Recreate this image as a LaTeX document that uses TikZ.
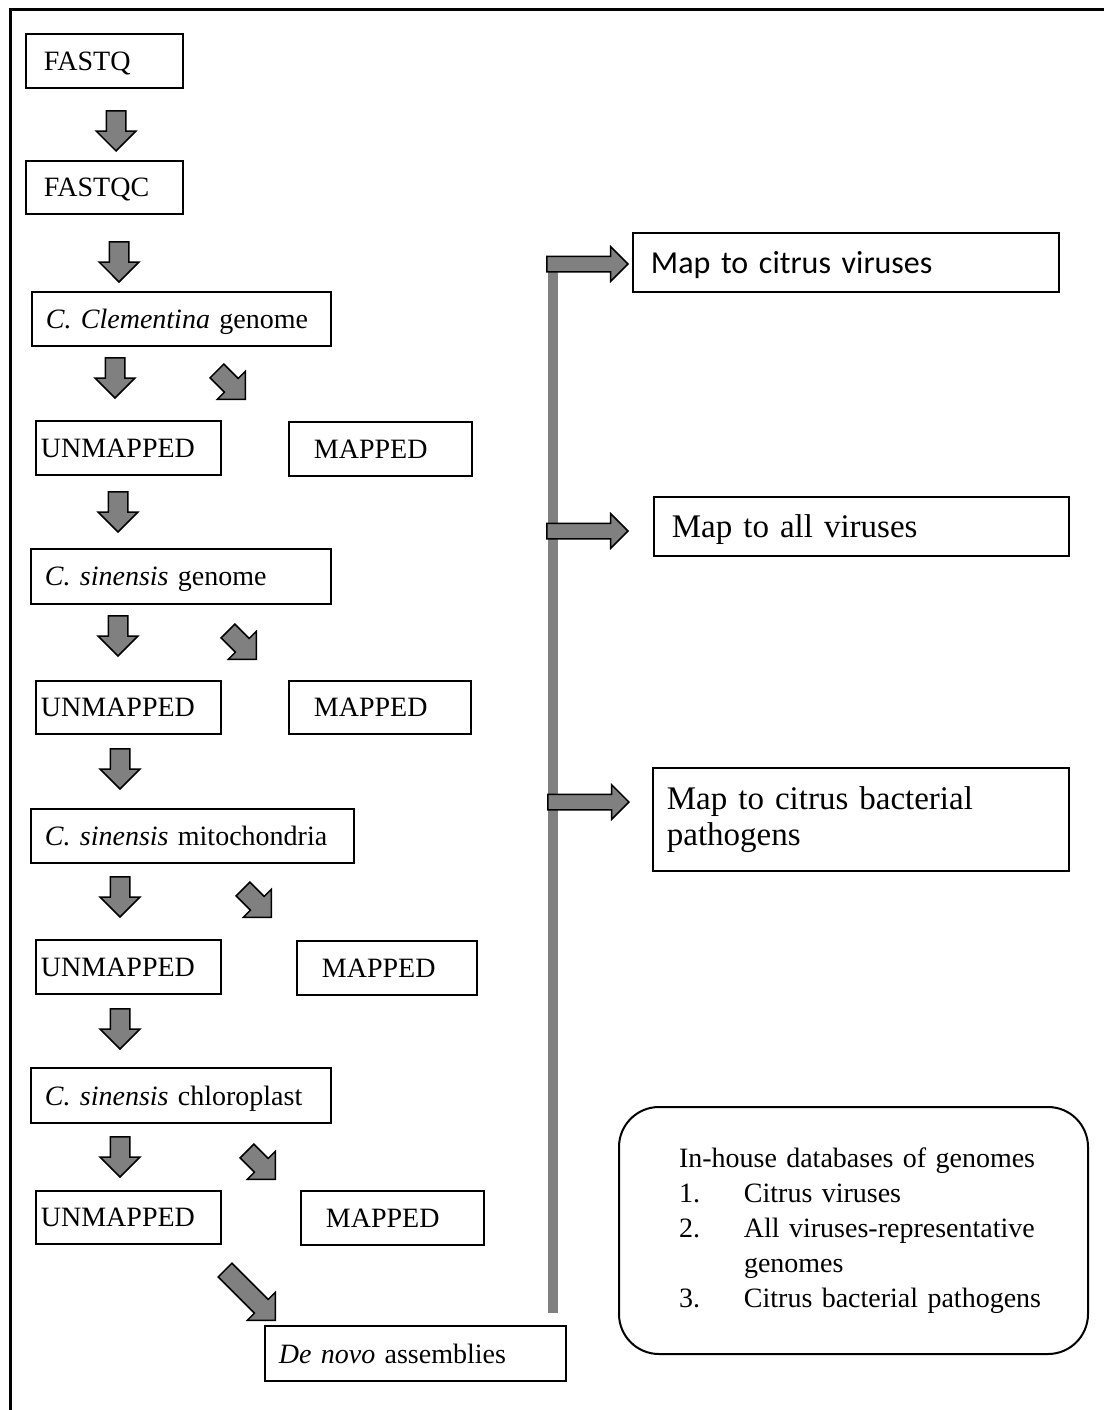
\documentclass[tikz,border=0pt]{standalone}
\usepackage{fontspec}
\setmainfont{Liberation Serif}
\newfontfamily\calibri{Carlito}
\usepackage{xcolor}
\usetikzlibrary{shapes.arrows}
\definecolor{arrowgray}{RGB}{128,128,128}

\begin{document}
\begin{tikzpicture}[
    x=1pt,y=-1pt,
    box/.style={rectangle,draw,line width=1.8pt,anchor=north west,align=left,inner ysep=0pt,text depth=0pt,font=\fontsize{28}{34}\selectfont},
    mapbox/.style={box,font=\fontsize{33}{36}\selectfont},
    dbbox/.style={box,text depth=,rounded corners=40pt,line width=2pt,font=\fontsize{28}{35}\selectfont},
    blockarrow/.style={single arrow,draw,line width=1.5pt,fill=arrowgray,inner sep=9pt,single arrow head extend=10pt,minimum height=40pt,anchor=tip},
    downarrow/.style={blockarrow,rotate=-90},
    diagarrow/.style={blockarrow,rotate=-45},
    rightarrow/.style={blockarrow,inner sep=7pt,single arrow head extend=9.5pt,minimum height=81pt},
    bar/.style={line width=10pt,draw=arrowgray},
    frame/.style={line width=2.5pt}
    ]

    \useasboundingbox (0,0) rectangle (1104,1410);
    \draw[frame] (10.5,1410) -- (10.5,9.5) -- (1104,9.5);

    % main pipeline
    \node[box,minimum width=157pt,minimum height=54pt,text width=121pt,inner xsep=18pt] (fastq) at (25,33) {FASTQ};
    \node[box,minimum width=157pt,minimum height=53pt,text width=121pt,inner xsep=18pt] (fastqc) at (25,160) {FASTQC};
    \node[box,minimum width=299pt,minimum height=54pt,text width=271pt,inner xsep=14pt] (clem) at (31,291) {\textit{C. Clementina} genome};
    \node[box,minimum width=185pt,minimum height=54pt,text width=175pt,inner xsep=5pt] (unmapA) at (35,420) {UNMAPPED};
    \node[box,minimum width=183pt,minimum height=54pt,text width=133pt,inner xsep=25pt] (mappedA) at (288,421) {MAPPED};
    \node[box,minimum width=300pt,minimum height=55pt,text width=272pt,inner xsep=14pt] (sinG) at (30,548) {\textit{C. sinensis} genome};
    \node[box,minimum width=185pt,minimum height=53pt,text width=175pt,inner xsep=5pt] (unmapB) at (35,680) {UNMAPPED};
    \node[box,minimum width=182pt,minimum height=53pt,text width=132pt,inner xsep=25pt] (mappedB) at (288,680) {MAPPED};
    \node[box,minimum width=323pt,minimum height=54pt,text width=295pt,inner xsep=14pt] (mito) at (30,808) {\textit{C. sinensis} mitochondria};
    \node[box,minimum width=185pt,minimum height=54pt,text width=175pt,inner xsep=5pt] (unmapC) at (35,939) {UNMAPPED};
    \node[box,minimum width=180pt,minimum height=54pt,text width=130pt,inner xsep=25pt] (mappedC) at (296,940) {MAPPED};
    \node[box,minimum width=300pt,minimum height=55pt,text width=272pt,inner xsep=14pt] (chloro) at (30,1067) {\textit{C. sinensis} chloroplast};
    \node[box,minimum width=185pt,minimum height=53pt,text width=175pt,inner xsep=5pt] (unmapD) at (35,1190) {UNMAPPED};
    \node[box,minimum width=183pt,minimum height=54pt,text width=133pt,inner xsep=25pt] (mappedD) at (300,1190) {MAPPED};
    \node[box,minimum width=301pt,minimum height=55pt,text width=273pt,inner xsep=14pt] (denovo) at (264,1325) {\textit{De novo} assemblies};

    % block arrows
    \node[downarrow] (fq2qc) at (116,152) {};
    \node[downarrow] (qc2clem) at (119,283) {};
    \node[downarrow] (clem2un) at (115,399) {};
    \node[diagarrow] (clem2map) at (246,400) {};
    \node[downarrow] (un2sin) at (118,533) {};
    \node[downarrow] (sin2un) at (118,657) {};
    \node[diagarrow] (sin2map) at (257,660) {};
    \node[downarrow] (un2mito) at (120,790) {};
    \node[downarrow] (mito2un) at (120,918) {};
    \node[diagarrow] (mito2map) at (272,918) {};
    \node[downarrow] (un2chl) at (120,1050) {};
    \node[downarrow] (chl2un) at (120,1178) {};
    \node[diagarrow] (chl2map) at (276,1180) {};
    \node[diagarrow,minimum height=71pt] (un2denovo) at (276,1321) {};

    % mapping branch
    \coordinate (bartop) at (553,262);
    \coordinate (barbot) at (553,1313);
    \draw[bar] (bartop) -- (barbot);

    \node[mapbox,minimum width=426pt,minimum height=59pt,text width=390pt,inner xsep=18pt,font=\calibri\fontsize{32}{36}\selectfont] (citvir) at (632,232) {Map to citrus viruses};
    \node[mapbox,minimum width=415pt,minimum height=59pt,text width=379pt,inner xsep=18pt] (allvir) at (653,496) {Map to all viruses};
    \node[mapbox,text depth=,minimum width=416pt,minimum height=103pt,text width=388pt,inner xsep=14pt] (bact) at (652,767) {Map to citrus bacterial\\pathogens};

    \node[rightarrow] (toCitvir) at (629,264) {};
    \node[rightarrow] (toAllvir) at (629,531) {};
    \node[rightarrow] (toBact) at (630,802) {};

    % databases
    \node[dbbox,minimum width=469pt,minimum height=247pt,text width=409pt,inner xsep=30pt] (db) at (618,1106) {%
      \hspace*{30pt}In-house databases of genomes\\
      \hspace*{30pt}\makebox[65pt][l]{1.}Citrus viruses\\
      \hspace*{30pt}\makebox[65pt][l]{2.}All viruses-representative\\
      \hspace*{95pt}genomes\\
      \hspace*{30pt}\makebox[65pt][l]{3.}Citrus bacterial pathogens};

\end{tikzpicture}
\end{document}
